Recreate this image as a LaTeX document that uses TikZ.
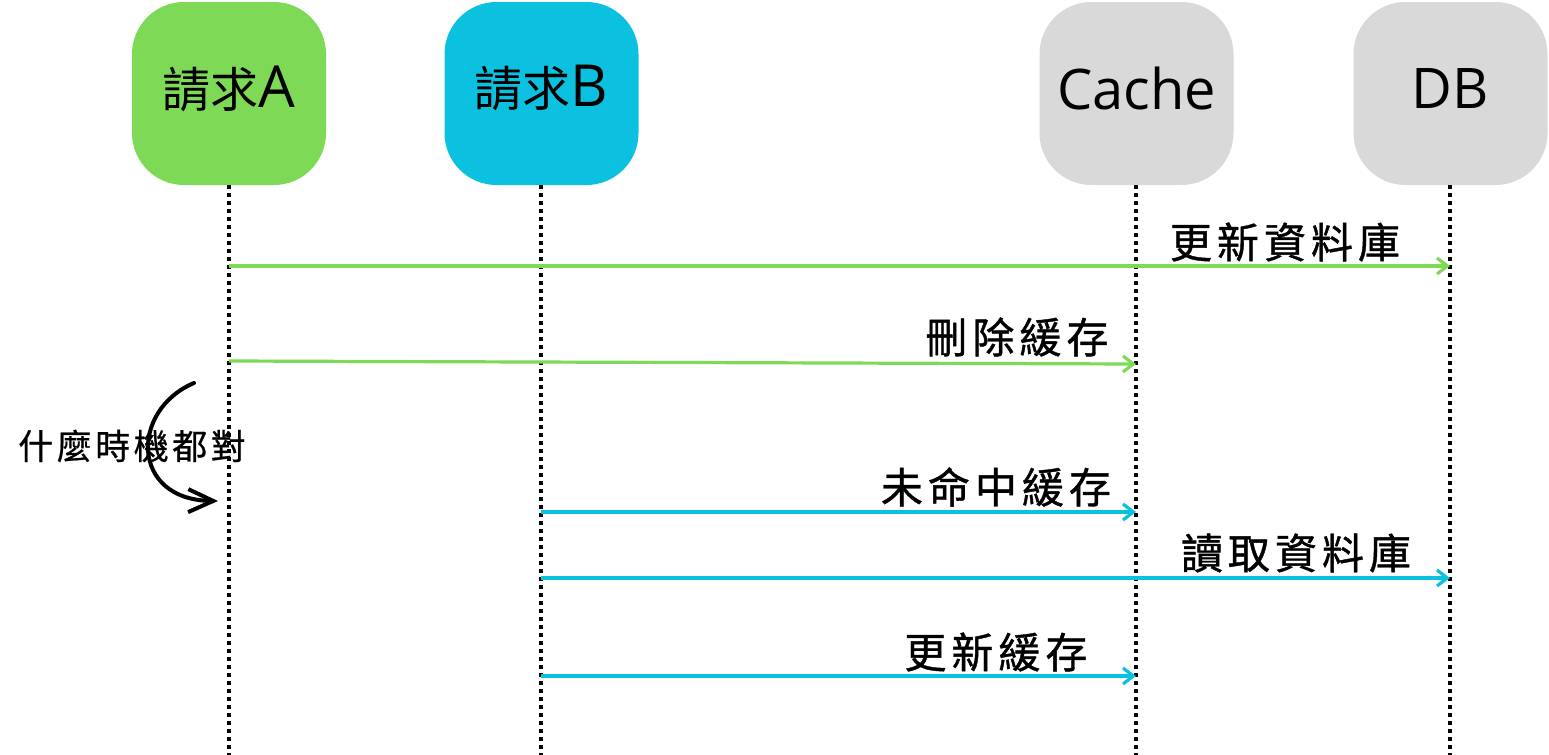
\documentclass[tikz,border=0pt]{standalone}
\usepackage{fontspec}
\setmainfont{Open Sans}
\newfontfamily\cjk{Noto Sans CJK TC}
\newfontfamily\cjkls{Noto Sans CJK TC}[LetterSpace=12,FakeBold=1]
\newfontfamily\cjknote{Noto Sans CJK TC}[LetterSpace=10,FakeBold=0.6]
\usetikzlibrary{arrows.meta}
\definecolor{cgreen}{HTML}{7ED957}
\definecolor{ccyan}{HTML}{0CC0DF}
\definecolor{cgray}{HTML}{D9D9D9}
\begin{document}
\begin{tikzpicture}[x=0.5pt,y=-0.5pt,
  actor/.style={rectangle, rounded corners=26pt, minimum width=97pt, minimum height=91.5pt, inner sep=0pt},
  actorlabel/.style={inner sep=0pt, text=black, yshift=2.5pt},
  lifeline/.style={line width=2pt, dash pattern=on 2pt off 2pt},
  msg/.style={line width=1.6pt, -{Straight Barb[length=5.2pt,width=8pt,line width=1.6pt]}},
  msglabel/.style={inner sep=0pt, font=\cjkls\fontsize{21pt}{24pt}\selectfont},
  notelabel/.style={inner sep=0pt, font=\cjknote\fontsize{17.5pt}{20pt}\selectfont},
  curvearrow/.style={line width=2pt, line cap=round, -{Straight Barb[length=12.5pt,width=11.5pt,line width=2pt]}}
  ]
\useasboundingbox (0,0) rectangle (1549,755);

% actors
\node[actor, fill=cgreen, label={[actorlabel]center:{\cjk\fontsize{24pt}{28pt}\selectfont 請求}{\fontsize{29pt}{32pt}\selectfont A}}] (A) at (229,93.5) {};
\node[actor, fill=ccyan, label={[actorlabel]center:{\cjk\fontsize{24pt}{28pt}\selectfont 請求}{\fontsize{29pt}{32pt}\selectfont B}}] (B) at (541.5,93.5) {};
\node[actor, fill=cgray, label={[actorlabel]center:\fontsize{28pt}{32pt}\selectfont Cache}] (C) at (1136.5,93.5) {};
\node[actor, fill=cgray, label={[actorlabel]center:\fontsize{28pt}{32pt}\selectfont DB}] (D) at (1450.5,93.5) {};

% lifeline ends
\coordinate (Aend) at (229,755);
\coordinate (Bend) at (541,755);
\coordinate (Cend) at (1136,755);
\coordinate (Dend) at (1450,755);
\draw[lifeline] (A.south -| Aend) -- (Aend);
\draw[lifeline] (B.south -| Bend) -- (Bend);
\draw[lifeline] (C.south -| Cend) -- (Cend);
\draw[lifeline] (D.south -| Dend) -- (Dend);

% message points
\coordinate (a1) at (229,266);  \coordinate (d1) at (1450,266);
\coordinate (a2) at (229,361);  \coordinate (c2) at (1136,364);
\coordinate (b3) at (541,512);  \coordinate (c3) at (1136,512);
\coordinate (b4) at (541,578);  \coordinate (d4) at (1450,578);
\coordinate (b5) at (541,676);  \coordinate (c5) at (1136,676);

\draw[msg, cgreen] (a1) -- (d1);
\draw[msg, cgreen] (a2) -- (c2);
\draw[msg, ccyan] (b3) -- (c3);
\draw[msg, ccyan] (b4) -- (d4);
\draw[msg, ccyan] (b5) -- (c5);

\node[msglabel] (l1) at (1285,242) {更新資料庫};
\node[msglabel] (l2) at (1017,337) {刪除緩存};
\node[msglabel] (l3) at (996,487) {未命中緩存};
\node[msglabel] (l4) at (1296,553) {讀取資料庫};
\node[msglabel] (l5) at (996,652) {更新緩存};

% note with curved arrow
\node[notelabel] (note) at (132,446) {什麼時機都對};
\coordinate (cs) at (194,383);
\coordinate (ce) at (218,501);
\draw[curvearrow] (cs) .. controls (130,410) and (130,500) .. (ce);
\end{tikzpicture}
\end{document}
